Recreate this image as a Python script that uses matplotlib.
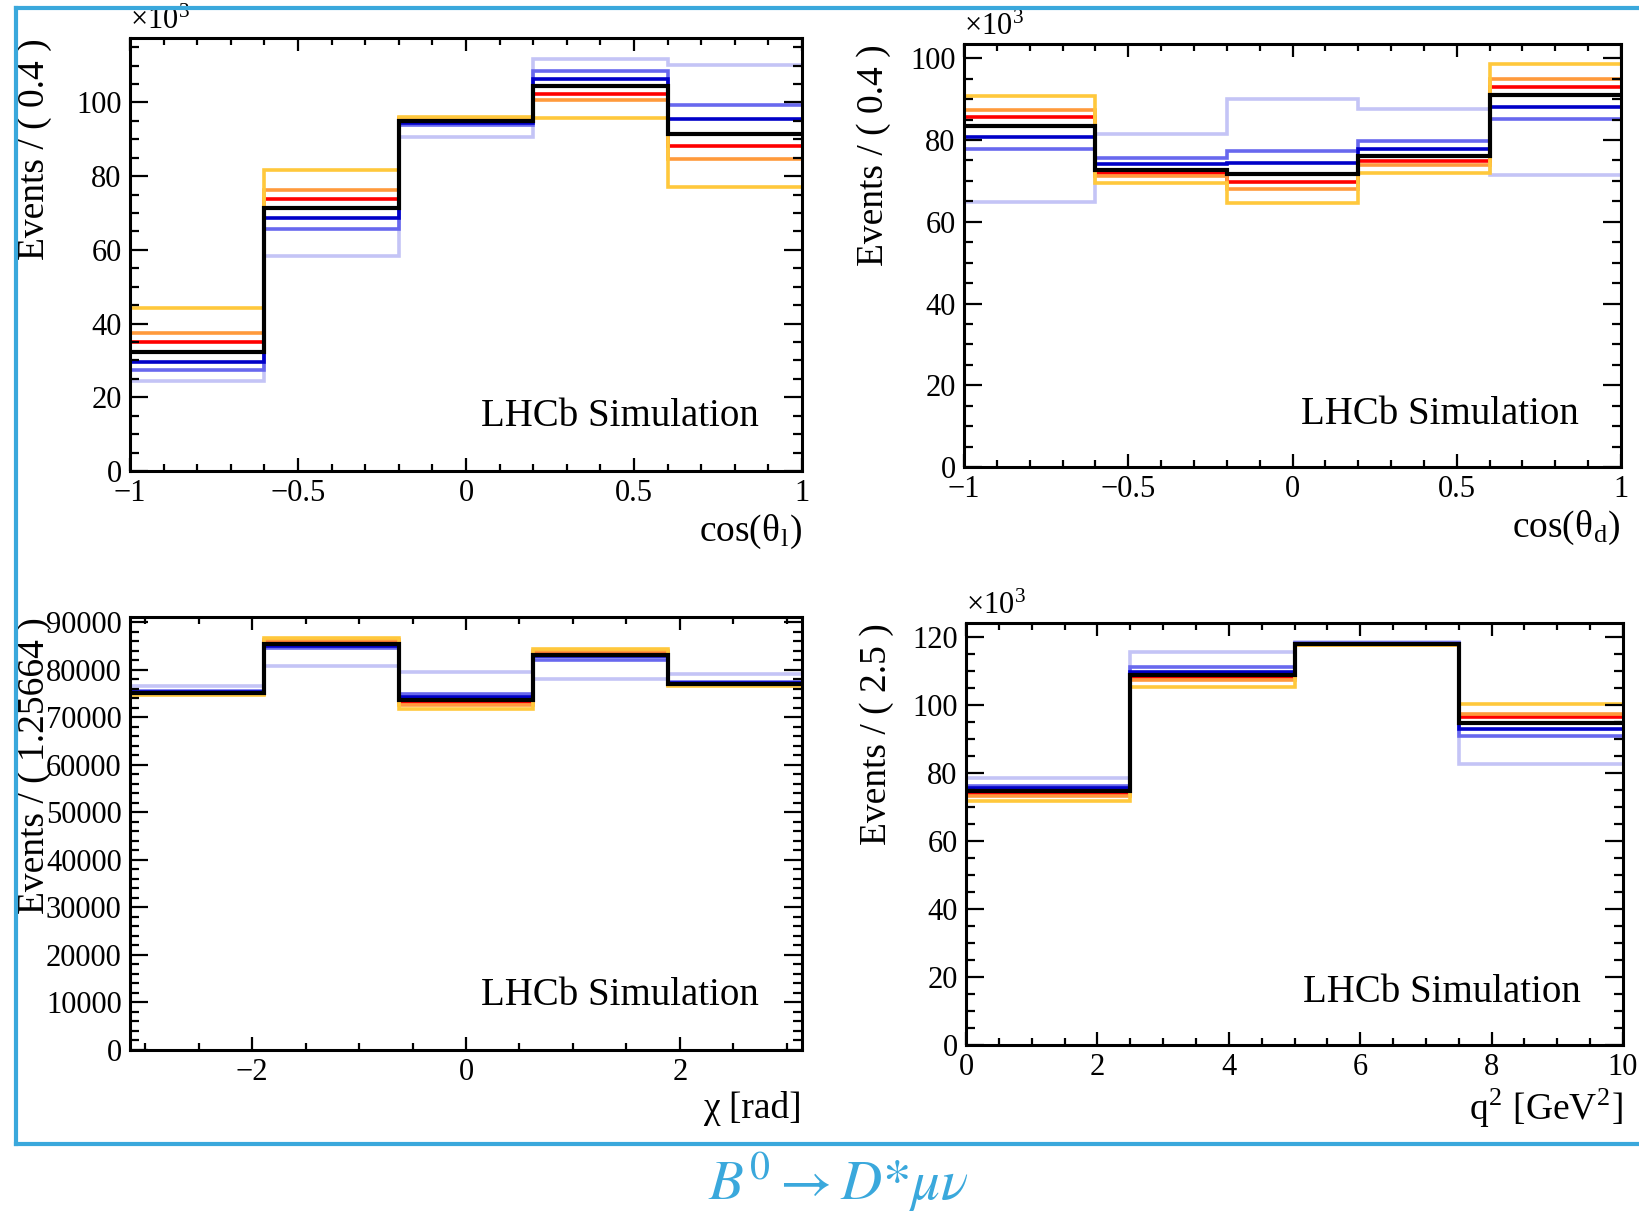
import numpy as np
import matplotlib
matplotlib.use("Agg")
import matplotlib.pyplot as plt
from matplotlib.ticker import MultipleLocator, FuncFormatter

plt.rcParams['font.family'] = ['Liberation Serif', 'DejaVu Serif']
plt.rcParams['mathtext.fontset'] = 'stix'

# series order: lavender, light blue, blue, black, red, orange, yellow
colors = ['#c4c4f6', '#6868ee', '#0000c8', '#000000', '#ff0000', '#ff9a3c', '#ffc83c']

# cos(theta_l), x10^3 events
costl_edges = [-1, -0.6, -0.2, 0.2, 0.6, 1.0]
costl = [
    [24.4, 58.4, 90.5, 111.7, 110.1],
    [27.3, 65.8, 94.0, 108.6, 99.4],
    [29.6, 68.6, 94.5, 106.5, 95.5],
    [32.3, 71.3, 95.0, 104.4, 91.5],
    [35.0, 73.8, 95.4, 102.4, 88.1],
    [37.5, 76.2, 95.9, 100.8, 84.7],
    [44.2, 81.7, 96.1, 95.9, 77.0],
]

# cos(theta_d), x10^3 events
costd_edges = [-1, -0.6, -0.2, 0.2, 0.6, 1.0]
costd = [
    [64.9, 81.5, 90.0, 87.7, 71.5],
    [77.7, 75.7, 77.4, 79.7, 85.1],
    [80.8, 74.2, 74.4, 77.7, 88.2],
    [83.4, 72.7, 71.8, 76.2, 90.9],
    [85.6, 72.0, 69.8, 74.9, 93.0],
    [87.3, 71.3, 68.1, 74.0, 94.9],
    [90.8, 69.6, 64.6, 71.9, 98.5],
]

# chi [rad], events
chi_edges = [-np.pi, -1.88496, -0.62832, 0.62832, 1.88496, np.pi]
chi = [
    [76600, 80800, 79500, 78000, 79100],
    [75600, 84500, 75000, 82100, 77400],
    [75300, 85100, 74200, 82800, 77200],
    [75100, 85500, 73700, 83200, 77100],
    [75000, 85800, 73200, 83600, 76900],
    [74800, 86200, 72600, 84000, 76800],
    [74600, 86600, 71700, 84400, 76600],
]

# q^2 [GeV^2], x10^3 events
q2_edges = [0, 2.5, 5.0, 7.5, 10.0]
q2 = [
    [78.7, 115.7, 118.5, 82.7],
    [76.3, 111.3, 118.3, 91.0],
    [75.6, 109.9, 118.1, 92.9],
    [74.8, 109.0, 118.0, 94.7],
    [74.0, 108.3, 117.9, 96.4],
    [73.3, 107.3, 117.8, 97.5],
    [71.7, 105.3, 117.7, 100.5],
]

W, H = 1639, 1215
fig = plt.figure(figsize=(W / 100, H / 100), dpi=100)

fmt = FuncFormatter(lambda v, p: ('%g' % v).replace('-', '\u2212'))


def add_ax(x0, x1, y0, y1):
    return fig.add_axes([x0 / W, 1 - y1 / H, (x1 - x0) / W, (y1 - y0) / H])


def draw(ax, edges, series, xlim, ylim, xmaj, xmin, ymaj, ymin, xlabel, ylabel,
         label_x, offset=True):
    order = [0, 1, 2, 4, 5, 6, 3]
    for i in order:
        ax.stairs(series[i], edges, color=colors[i],
                  lw=3.0 if i == 3 else 2.6, baseline=None)
    ax.set_xlim(*xlim)
    ax.set_ylim(*ylim)
    ax.xaxis.set_major_locator(MultipleLocator(xmaj))
    ax.xaxis.set_minor_locator(MultipleLocator(xmin))
    ax.yaxis.set_major_locator(MultipleLocator(ymaj))
    ax.yaxis.set_minor_locator(MultipleLocator(ymin))
    ax.xaxis.set_major_formatter(fmt)
    ax.yaxis.set_major_formatter(fmt)
    ax.tick_params(which='both', direction='in', top=True, right=True,
                   labelsize=22, width=1.6, pad=6)
    ax.tick_params(axis='y', which='major', length=13)
    ax.tick_params(axis='y', which='minor', length=6.5)
    ax.tick_params(axis='x', which='major', length=9.5)
    ax.tick_params(axis='x', which='minor', length=5)
    for s in ax.spines.values():
        s.set_linewidth(2.2)
    ax.set_xlabel(xlabel, fontsize=27, loc='right', labelpad=3)
    ax.set_ylabel(ylabel, fontsize=27, loc='top')
    ax.yaxis.set_label_coords(label_x, 1.0)
    ax.text(0.936, 0.125, 'LHCb Simulation', transform=ax.transAxes,
            fontsize=28, ha='right', va='center')
    if offset:
        ax.text(0.0, 1.005, r'×10$^\mathregular{3}$', transform=ax.transAxes,
                fontsize=22, ha='left', va='bottom')


ax1 = add_ax(130, 802, 38, 471)
draw(ax1, costl_edges, costl, (-1, 1), (0, 117.5), 0.5, 0.1, 20, 5,
     'cos(θ$_\\mathregular{l}$)', 'Events / ( 0.4 )', -0.116)

ax2 = add_ax(964, 1621, 44, 467)
draw(ax2, costd_edges, costd, (-1, 1), (0, 103.5), 0.5, 0.1, 20, 5,
     'cos(θ$_\\mathregular{d}$)', 'Events / ( 0.4 )', -0.111)

ax3 = add_ax(130, 802, 617, 1050)
draw(ax3, chi_edges, chi, (-np.pi, np.pi), (0, 91100), 2, 0.5, 10000, 2000,
     'χ [rad]', 'Events / ( 1.25664 )', -0.116, offset=False)

ax4 = add_ax(966, 1623, 623, 1045)
draw(ax4, q2_edges, q2, (0, 10), (0, 124.2), 2, 0.5, 20, 5,
     'q$^\\mathregular{2}$ [GeV$^\\mathregular{2}$]', 'Events / ( 2.5 )', -0.11)

# blue frame
frame_c = '#3aa8dc'
fig.add_artist(plt.Line2D([16 / W, 16 / W], [1 - 8 / H, 1 - 1144 / H],
                          transform=fig.transFigure, color=frame_c, lw=3))
fig.add_artist(plt.Line2D([16 / W, 1.0], [1 - 8 / H, 1 - 8 / H],
                          transform=fig.transFigure, color=frame_c, lw=3))
fig.add_artist(plt.Line2D([16 / W, 1.0], [1 - 1144 / H, 1 - 1144 / H],
                          transform=fig.transFigure, color=frame_c, lw=3))

fig.text(838 / W, 1 - 1182 / H, r'$B^0 \rightarrow D{*}\mu\nu$', color=frame_c,
         fontsize=41, ha='center', va='center')

fig.savefig('out.png', dpi=100)
